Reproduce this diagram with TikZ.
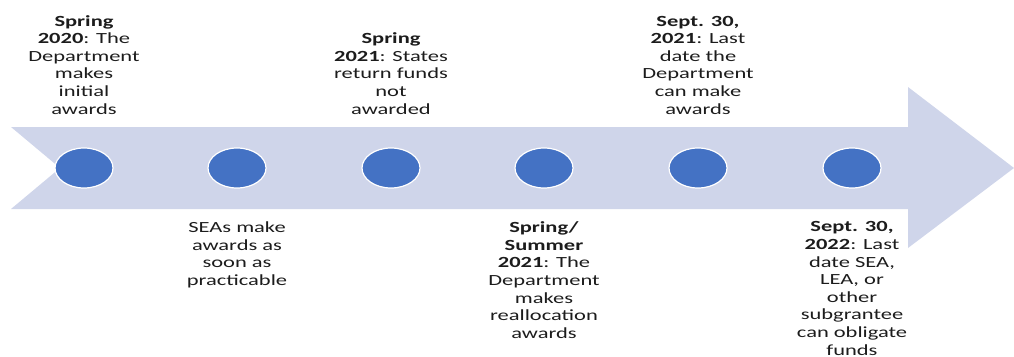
\documentclass[tikz,border=0pt]{standalone}
\usepackage{fontspec}
\setmainfont{Carlito}[FakeStretch=1.45]
\usetikzlibrary{positioning,shapes.geometric}
\definecolor{bandblue}{HTML}{CFD5EA}
\definecolor{dotblue}{HTML}{4472C4}
\definecolor{ink}{HTML}{1C1C1C}

\begin{document}
\begin{tikzpicture}[x=1pt,y=-1pt,
    every node/.style = {align=center, inner sep=0pt, text=ink,
        font=\fontsize{15.5}{17.6}\selectfont},
    milestone/.style = {shape=ellipse, draw=white, line width=1.2pt,
        fill=dotblue, minimum width=58pt, minimum height=40pt}]
    \useasboundingbox (0,0) rectangle (1014,356);
    % notched band ending in the arrow head
    \fill[bandblue] (11,127) -- (908,127) -- (908,87) -- (1014,168)
        -- (908,248) -- (908,209) -- (11,209) -- (60,168) -- cycle;
    \node[milestone] (p1) at (84,168) {};
    \node[milestone] (p2) at (237,168) {};
    \node[milestone] (p3) at (391,168) {};
    \node[milestone] (p4) at (544,168) {};
    \node[milestone] (p5) at (698,168) {};
    \node[milestone] (p6) at (852,168) {};
    % dates above the band
    \node[above=33pt of p1] (t1) {\textbf{Spring}\\\textbf{2020}: The\\Department\\makes\\initial\\awards};
    \node[above=33pt of p3] (t3) {\textbf{Spring}\\\textbf{2021}: States\\return funds\\not\\awarded};
    \node[above=33pt of p5] (t5) {\textbf{Sept. 30,}\\\textbf{2021}: Last\\date the\\Department\\can make\\awards};
    % dates below the band
    \node[below=33pt of p2] (t2) {SEAs make\\awards as\\soon as\\practicable};
    \node[below=33pt of p4] (t4) {\textbf{Spring/}\\\textbf{Summer}\\\textbf{2021}: The\\Department\\makes\\reallocation\\awards};
    \node[below=33pt of p6] (t6) {\textbf{Sept. 30,}\\\textbf{2022}: Last\\date SEA,\\LEA, or\\other\\subgrantee\\can obligate\\funds};
\end{tikzpicture}
\end{document}
